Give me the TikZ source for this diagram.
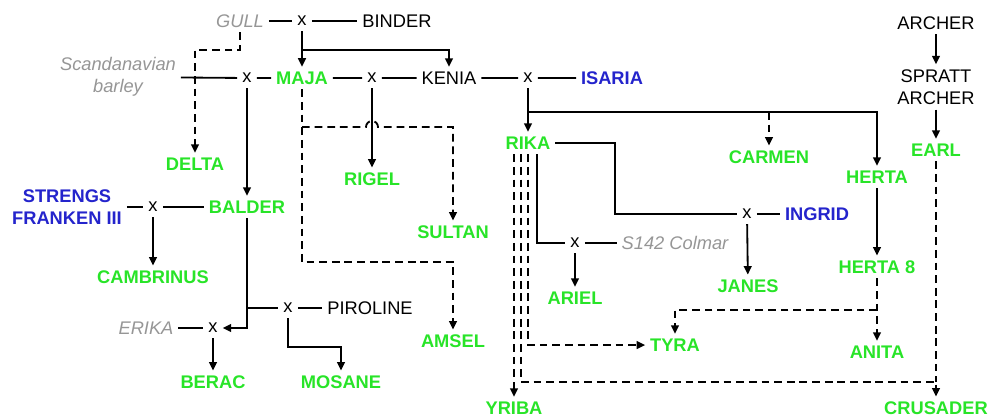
\documentclass[tikz,border=0pt]{standalone}
\usepackage{fontspec}
\setmainfont{Liberation Sans}
\usepackage{xcolor}
\usetikzlibrary{arrows.meta, calc}
\definecolor{cultivar}{RGB}{40,228,40}
\definecolor{foreign}{RGB}{36,36,204}
\definecolor{landrace}{RGB}{150,150,150}
\newcommand{\plantfont}{\fontsize{13}{16}\selectfont}

\begin{document}
\begin{tikzpicture}[x=0.025cm, y=-0.025cm,
    parent/.style={font=\plantfont, align=center},
    var/.style={font=\plantfont\bfseries, text=cultivar},
    import/.style={font=\plantfont\bfseries, text=foreign, align=center},
    land/.style={font=\plantfont\itshape, text=landrace, align=center},
    cross/.style={font=\plantfont, inner sep=3.5pt},
    link/.style={line width=1.3pt},
    dlink/.style={line width=1.3pt, dash pattern=on 5.5pt off 3.5pt},
    arr/.style={-{Triangle[length=6pt,width=5.5pt]}}]
  \useasboundingbox (0,0) rectangle (989,417);

  % crossings
  \foreach \n/\x/\y in {xg/302/21, xs/247/78, xm/372/78, xk/528/78,
      xb/153/207, xi/747/214, xc/575/243, xp/288/308, xe/213/328}
    \node[cross] (\n) at (\x,\y) {x};

  % parents
  \node[parent] (binder) at (397,21) {BINDER};
  \node[parent] (kenia) at (449,78) {KENIA};
  \node[parent] (piroline) at (370,308) {PIROLINE};
  \node[parent] (archer) at (936,23) {ARCHER};
  \node[parent] (spratt) at (936,87) {SPRATT\\ARCHER};
  \node[import] (isaria) at (612,78) {ISARIA};
  \node[import] (strengs) at (67,207) {STRENGS\\FRANKEN III};
  \node[import] (ingrid) at (817,214) {INGRID};
  \node[land] (gull) at (240,21) {GULL};
  \node[land] (scand) at (118,77) {Scandanavian\\barley};
  \node[land] (erika) at (146,328) {ERIKA};
  \node[land] (colmar) at (675,243) {S142 Colmar};

  % cultivars
  \foreach \n/\x/\y/\t in {maja/302/78/MAJA, delta/195/164/DELTA,
      rigel/372/179/RIGEL, rika/528/143/RIKA, carmen/769/157/CARMEN,
      herta/877/177/HERTA, earl/936/150/EARL, balder/247/207/BALDER,
      cambrinus/153/277/CAMBRINUS, sultan/453/232/SULTAN,
      herta8/877/267/HERTA 8, janes/748/286/JANES, ariel/575/298/ARIEL,
      amsel/453/341/AMSEL, tyra/675/345/TYRA, anita/877/352/ANITA,
      berac/213/382/BERAC, mosane/341/382/MOSANE, yriba/514/408/YRIBA,
      crusader/936/408/CRUSADER}
    \node[var] (\n) at (\x,\y) {\t};

  \coordinate (j1) at (302,50);
  \coordinate (j2) at (247,308);
  \coordinate (j3) at (341,347);
  \coordinate (j4) at (528,112);
  \coordinate (j5) at (615,214);
  \coordinate (j6) at (936,382);
  \coordinate (j7) at (877,310);
  \coordinate (j8) at (195,50);
  \coordinate (j9) at (453,262);
  \coordinate (j10) at (302,127);

  % solid lines
  \draw[link] (gull) -- (xg) -- (binder);
  \draw[link, arr] (xg) -- (maja);
  \draw[link, arr] (j1) -| (kenia);
  \draw[link] (scand) -- (xs) -- (maja) -- (xm) -- (kenia) -- (xk) -- (isaria);
  \draw[link, arr] (xs) -- (balder);
  \draw[link, arr] (xm) -- (rigel);
  \draw[link, arr] (xk) -- (rika);
  \draw[link, arr] (j4) -| (herta);
  \draw[link, arr] (balder) |- (xe);
  \draw[link] (j2) -- (xp) -- (piroline);
  \draw[link, arr] (xp) |- (j3) -- (mosane);
  \draw[link] (strengs) -- (xb) -- (balder);
  \draw[link, arr] (xb) -- (cambrinus);
  \draw[link] (erika) -- (xe);
  \draw[link, arr] (xe) -- (berac);
  \draw[link] (rika) -| (j5) -- (xi) -- (ingrid);
  \draw[link, arr] (xi) -- (janes);
  \draw[link] ($(rika.south)+(9,0)$) |- (xc) -- (colmar);
  \draw[link, arr] (xc) -- (ariel);
  \draw[link, arr] (herta) -- (herta8);
  \draw[link, arr] (archer) -- (spratt);
  \draw[link, arr] (spratt) -- (earl);

  % dashed lines
  \draw[dlink, arr] (j4 -| carmen) -- (carmen);
  \draw[dlink, arr] (gull) |- (j8) -- (delta);
  \draw[dlink, arr] (maja) |- (j9) -- (amsel);
  \draw[dlink, arr] (j10) -- ($(xm |- j10)+(-6,0)$)
    arc[start angle=180, end angle=0, radius=0.15cm] -- (j10 -| sultan) -- (sultan);
  \draw[dlink, arr] (rika.south) |- (tyra);
  \draw[dlink, arr] ($(rika.south)+(-7,0)$) |- (j6) -- (crusader);
  \draw[dlink] (earl) -- (j6);
  \draw[dlink, arr] ($(rika.south)+(-14,0)$) -- (yriba);
  \draw[dlink, arr] (herta8) -- (anita);
  \draw[dlink, arr] (j7) -| (tyra);
\end{tikzpicture}
\end{document}
